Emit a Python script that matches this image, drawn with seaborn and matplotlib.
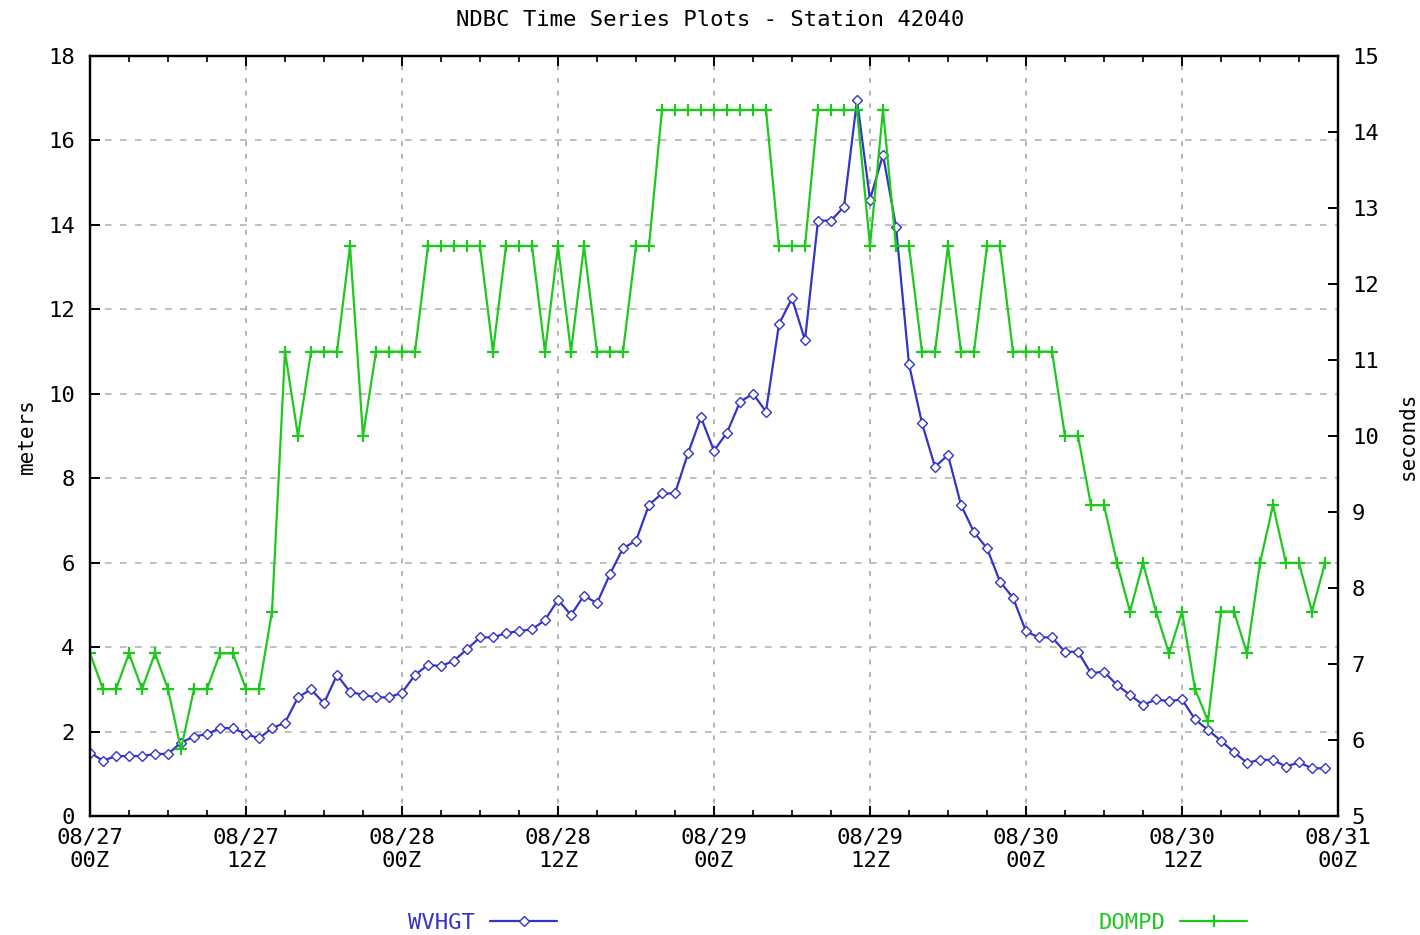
import numpy as np
import pandas as pd
import matplotlib
matplotlib.use("Agg")
import matplotlib.pyplot as plt
import matplotlib.dates as mdates
import seaborn as sns

# Hourly observations, 08/27 00Z through 08/30 23Z
times = pd.date_range("2005-08-27 00:00", periods=96, freq="h")

# Significant wave height (m)
wvhgt = [
    1.50, 1.31, 1.42, 1.42, 1.42, 1.47, 1.47, 1.74, 1.88, 1.94, 2.08, 2.08,
    1.94, 1.84, 2.08, 2.21, 2.81, 3.00, 2.67, 3.34, 2.94, 2.87, 2.81, 2.81,
    2.92, 3.34, 3.58, 3.55, 3.68, 3.95, 4.23, 4.23, 4.33, 4.38, 4.42, 4.64,
    5.12, 4.76, 5.22, 5.04, 5.73, 6.34, 6.52, 7.37, 7.64, 7.64, 8.59, 9.44,
    8.65, 9.08, 9.81, 10.00, 9.58, 11.65, 12.26, 11.27, 14.10, 14.10, 14.43, 16.96,
    14.60, 15.66, 13.96, 10.70, 9.30, 8.27, 8.55, 7.37, 6.72, 6.34, 5.55, 5.17,
    4.37, 4.23, 4.23, 3.89, 3.89, 3.38, 3.42, 3.10, 2.87, 2.63, 2.76, 2.72,
    2.76, 2.29, 2.04, 1.78, 1.51, 1.26, 1.33, 1.33, 1.17, 1.27, 1.13, 1.13,
]

# Dominant wave period (s)
dompd = [
    7.14, 6.67, 6.67, 7.14, 6.67, 7.14, 6.67, 5.88, 6.67, 6.67, 7.14, 7.14,
    6.67, 6.67, 7.69, 11.11, 10.00, 11.11, 11.11, 11.11, 12.50, 10.00, 11.11, 11.11,
    11.11, 11.11, 12.50, 12.50, 12.50, 12.50, 12.50, 11.11, 12.50, 12.50, 12.50, 11.11,
    12.50, 11.11, 12.50, 11.11, 11.11, 11.11, 12.50, 12.50, 14.29, 14.29, 14.29, 14.29,
    14.29, 14.29, 14.29, 14.29, 14.29, 12.50, 12.50, 12.50, 14.29, 14.29, 14.29, 14.29,
    12.50, 14.29, 12.50, 12.50, 11.11, 11.11, 12.50, 11.11, 11.11, 12.50, 12.50, 11.11,
    11.11, 11.11, 11.11, 10.00, 10.00, 9.09, 9.09, 8.33, 7.69, 8.33, 7.69, 7.14,
    7.69, 6.67, 6.25, 7.69, 7.69, 7.14, 8.33, 9.09, 8.33, 8.33, 7.69, 8.33,
]

df = pd.DataFrame({"time": times, "WVHGT": wvhgt, "DOMPD": dompd})

title = "NDBC Time Series Plots - Station 42040"
left_label = "meters"
right_label = "seconds"

BLUE = "#3434c8"
GREEN = "#1ec81e"
GRID = "#b4b4b4"

sns.set_style("white")
plt.rcParams["font.family"] = ["DejaVu Sans Mono", "DejaVu Sans"]
plt.rcParams["text.color"] = "black"
plt.rcParams["xtick.color"] = "black"
plt.rcParams["ytick.color"] = "black"
plt.rcParams["axes.labelcolor"] = "black"
FS = 16

fig = plt.figure(figsize=(14.2, 9.35), dpi=100)
ax = fig.add_axes([90 / 1420, 1 - 816 / 935, (1338 - 90) / 1420, (816 - 56) / 935])
ax2 = ax.twinx()

sns.lineplot(data=df, x="time", y="WVHGT", ax=ax, color=BLUE, lw=1.6,
             marker="D", markersize=5.5, markerfacecolor="white",
             markeredgecolor=BLUE, markeredgewidth=1.0, legend=False)
sns.lineplot(data=df, x="time", y="DOMPD", ax=ax2, color=GREEN, lw=1.6,
             marker="+", markersize=9, markeredgewidth=1.6,
             markeredgecolor=GREEN, legend=False)

start = pd.Timestamp("2005-08-27 00:00")
end = pd.Timestamp("2005-08-31 00:00")
ax.set_xlim(start, end)
ax.set_ylim(0, 18)
ax2.set_ylim(5, 15)

ax.xaxis.set_major_locator(mdates.HourLocator(byhour=[0, 12]))
ax.xaxis.set_minor_locator(mdates.HourLocator(interval=3))
ax.xaxis.set_major_formatter(mdates.DateFormatter("%m/%d\n%HZ"))
ax.set_yticks(np.arange(0, 19, 2))
ax2.set_yticks(np.arange(5, 16, 1))

# grid: dashed horizontal at meter ticks, dotted vertical at 12h marks
ax.set_axisbelow(True)
ax.yaxis.grid(True, color=GRID, linestyle=(0, (4, 5)), lw=1.2)
ax.xaxis.grid(True, which="major", color=GRID, linestyle=(0, (2.5, 4)), lw=1.4)

for a in (ax, ax2):
    for s in a.spines.values():
        s.set_linewidth(1.6)
        s.set_color("black")
        s.set_visible(True)

ax.tick_params(axis="x", which="major", direction="in", length=7, width=1.4,
               top=True, bottom=True, labelsize=FS, pad=8)
ax.tick_params(axis="x", which="minor", direction="in", length=4, width=1.2,
               top=True, bottom=True)
ax.tick_params(axis="y", which="major", direction="in", length=7, width=1.4,
               left=True, right=False, labelsize=FS, pad=11)
ax2.tick_params(axis="y", which="major", direction="in", length=7, width=1.4,
                right=True, left=False, labelsize=FS, pad=10)
for lab in ax.get_xticklabels():
    lab.set_linespacing(1.25)

ax.set_xlabel("")
ax.set_ylabel(left_label, fontsize=FS - 1, labelpad=8)
ax2.set_ylabel(right_label, fontsize=FS - 1, rotation=90, labelpad=14)

fig.text(0.5, 1 - 20 / 935, title, ha="center", va="center", fontsize=FS)

h1 = ax.get_lines()[0]
h2 = ax2.get_lines()[0]
common = dict(loc="center left", bbox_transform=fig.transFigure, frameon=False,
              markerfirst=False, handlelength=3.0, handletextpad=0.7,
              borderpad=0, borderaxespad=0, numpoints=1,
              labelcolor="linecolor", prop={"size": FS})
fig.legend(handles=[h1], labels=["WVHGT"],
           bbox_to_anchor=(408 / 1420, 1 - 923 / 935), **common)
fig.legend(handles=[h2], labels=["DOMPD"],
           bbox_to_anchor=(1098 / 1420, 1 - 923 / 935), **common)

fig.savefig("out.png", dpi=100, facecolor="white")
